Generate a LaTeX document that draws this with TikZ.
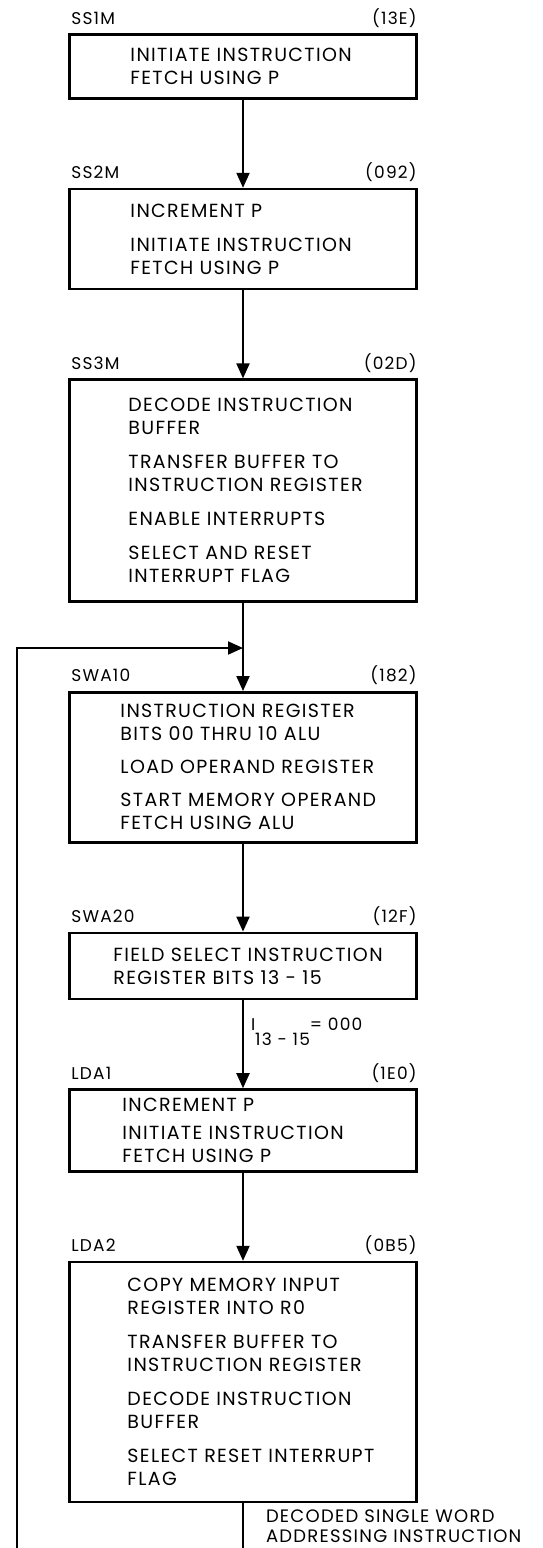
\documentclass[tikz,border=0pt]{standalone}
\usepackage{fontspec}
\setmainfont[LetterSpace=7]{Poppins}
\usetikzlibrary{positioning,arrows.meta}

\tikzset{
  stepbox/.style={draw, line width=2.6pt, align=left, inner xsep=0pt, inner ysep=0pt,
    text width=347pt, execute at begin node={\leftskip=#1}, font=\fontsize{19}{23}\selectfont},
  tag/.style={inner sep=1pt, text height=13pt, text depth=3pt, font=\fontsize{17}{19}\selectfont},
  flow/.style={line width=2pt, -{Triangle[length=15pt,width=13pt]}},
  wire/.style={line width=2pt},
}

\begin{document}
\begin{tikzpicture}[x=1pt, y=-1pt]
  \useasboundingbox (0,0) rectangle (543,1548);
  \matrix (chart) [row sep=88pt, inner sep=0pt, anchor=north] at (243,33)
  {
    \node[stepbox=61pt, minimum height=64pt] (b1)
      {INITIATE INSTRUCTION\\FETCH USING P}; \\
    \node[stepbox=61pt, minimum height=100pt] (b2)
      {INCREMENT P\\[11pt]INITIATE INSTRUCTION\\FETCH USING P}; \\
    \node[stepbox=59pt, minimum height=222pt] (b3)
      {DECODE INSTRUCTION\\BUFFER\\[11pt]TRANSFER BUFFER TO\\INSTRUCTION REGISTER\\[11pt]%
       ENABLE INTERRUPTS\\[11pt]SELECT AND RESET\\INTERRUPT FLAG}; \\
    \node[stepbox=51pt, minimum height=150pt] (b4)
      {INSTRUCTION REGISTER\\BITS 00 THRU 10 ALU\\[10pt]LOAD OPERAND REGISTER\\[10pt]%
       START MEMORY OPERAND\\FETCH USING ALU}; \\
    \node[stepbox=44pt, minimum height=66pt] (b5)
      {FIELD SELECT INSTRUCTION\\REGISTER BITS 13 - 15}; \\
    \node[stepbox=53pt, minimum height=82pt] (b6)
      {INCREMENT P\\[5pt]INITIATE INSTRUCTION\\FETCH USING P}; \\
    \node[stepbox=58pt, minimum height=240pt] (b7)
      {COPY MEMORY INPUT\\REGISTER INTO R0\\[11pt]TRANSFER BUFFER TO\\INSTRUCTION REGISTER\\[11pt]%
       DECODE INSTRUCTION\\BUFFER\\[11pt]SELECT RESET INTERRUPT\\FLAG}; \\
  };

  % step names and addresses
  \node[tag, above right=5pt and 2pt of b1.north west] (b1name) {SS1M};
  \node[tag, above left=5pt and 0pt of b1.north east] (b1code) {(13E)};
  \node[tag, above right=5pt and 2pt of b2.north west] (b2name) {SS2M};
  \node[tag, above left=5pt and 0pt of b2.north east] (b2code) {(092)};
  \node[tag, above right=5pt and 2pt of b3.north west] (b3name) {SS3M};
  \node[tag, above left=5pt and 0pt of b3.north east] (b3code) {(02D)};
  \node[tag, above right=5pt and 2pt of b4.north west] (b4name) {SWA10};
  \node[tag, above left=5pt and 0pt of b4.north east] (b4code) {(182)};
  \node[tag, above right=5pt and 2pt of b5.north west] (b5name) {SWA20};
  \node[tag, above left=5pt and 0pt of b5.north east] (b5code) {(12F)};
  \node[tag, above right=5pt and 2pt of b6.north west] (b6name) {LDA1};
  \node[tag, above left=5pt and 0pt of b6.north east] (b6code) {(1E0)};
  \node[tag, above right=5pt and 2pt of b7.north west] (b7name) {LDA2};
  \node[tag, above left=5pt and 0pt of b7.north east] (b7code) {(0B5)};

  \draw[flow] (b1) -- (b2);
  \draw[flow] (b2) -- (b3);
  \draw[flow] (b3) -- (b4);
  \draw[flow] (b4) -- (b5);
  \draw[flow] (b5) -- node[right=7pt, pos=0.36, inner sep=0pt, font=\fontsize{17}{19}\selectfont] (cond)
    {I\raisebox{-15pt}{13 - 15}= 000} (b6);
  \draw[flow] (b6) -- (b7);

  % return path
  \coordinate (loopbot) at (17,1548);
  \coordinate (loopturn) at (17,648);
  \draw[flow] (loopbot) -- (loopturn) -- (loopturn -| b3.south);

  % exit
  \coordinate (exitend) at (b7.south |- loopbot);
  \draw[wire] (b7) -- node[right=22pt, pos=0.5, inner sep=0pt, align=left,
    font=\fontsize{18}{20}\selectfont] (exitnote)
    {DECODED SINGLE WORD\\ADDRESSING INSTRUCTION} (exitend);
\end{tikzpicture}
\end{document}
